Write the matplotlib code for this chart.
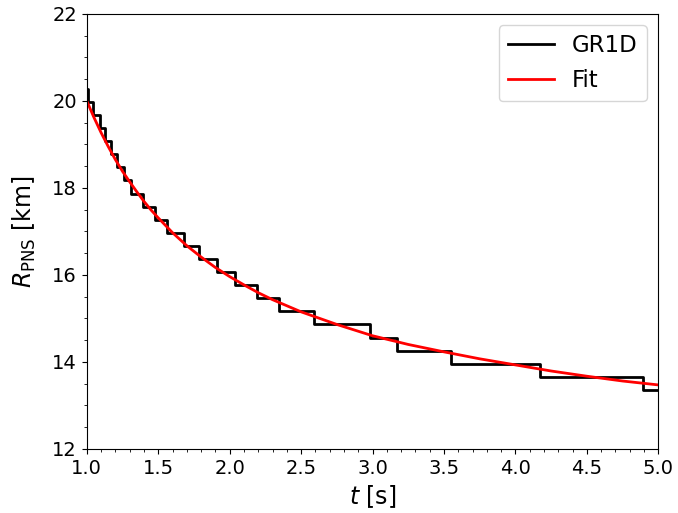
import matplotlib
matplotlib.use("Agg")
import matplotlib.pyplot as plt
from matplotlib.ticker import MultipleLocator

# GR1D proto-neutron-star radius (step data)
t_gr1d = [1.0, 1.007, 1.047, 1.09, 1.125, 1.168, 1.212, 1.257, 1.31, 1.39,
          1.475, 1.56, 1.683, 1.786, 1.913, 2.036, 2.193, 2.343, 2.592,
          2.983, 3.17, 3.548, 4.173, 4.893, 5.0]
r_gr1d = [20.27, 19.97, 19.67, 19.37, 19.07, 18.77, 18.47, 18.17, 17.86,
          17.56, 17.26, 16.96, 16.66, 16.36, 16.06, 15.76, 15.46, 15.16,
          14.86, 14.56, 14.26, 13.96, 13.66, 13.36, 13.36]

# fit curve, sampled off the chart
t_fit = [1.0, 1.05, 1.1, 1.15, 1.2, 1.25, 1.3, 1.35, 1.4, 1.45, 1.5,
         1.6, 1.7, 1.8, 1.9, 2.0, 2.1, 2.2, 2.3, 2.4, 2.5,
         2.75, 3.0, 3.25, 3.5, 3.75, 4.0, 4.25, 4.5, 4.75, 5.0]
r_fit = [20.00, 19.62, 19.27, 18.95, 18.65, 18.38, 18.14, 17.91, 17.69, 17.49, 17.31,
         16.97, 16.67, 16.41, 16.17, 15.96, 15.77, 15.59, 15.43, 15.29, 15.15,
         14.86, 14.60, 14.40, 14.23, 14.07, 13.93, 13.79, 13.67, 13.56, 13.47]

plt.rcParams['font.size'] = 14

fig = plt.figure(figsize=(6.78, 5.13), dpi=100)
ax = fig.add_axes([0.128, 0.125, 0.843, 0.848])

ax.step(t_gr1d, r_gr1d, where='post', color='black', lw=2, label='GR1D')
ax.plot(t_fit, r_fit, color='red', lw=2, label='Fit')

ax.set_xlim(1.0, 5.0)
ax.set_ylim(12, 22)
ax.xaxis.set_major_locator(MultipleLocator(0.5))
ax.xaxis.set_minor_locator(MultipleLocator(0.1))
ax.yaxis.set_major_locator(MultipleLocator(2))
ax.yaxis.set_minor_locator(MultipleLocator(0.5))

ax.set_xlabel(r'$t$ [s]', fontsize=17, labelpad=4)
ax.set_ylabel(r'$R_{\rm PNS}$ [km]', fontsize=17, labelpad=10)
ax.legend(loc='upper right', fontsize=16.5)

fig.savefig('out.png', dpi=100)
